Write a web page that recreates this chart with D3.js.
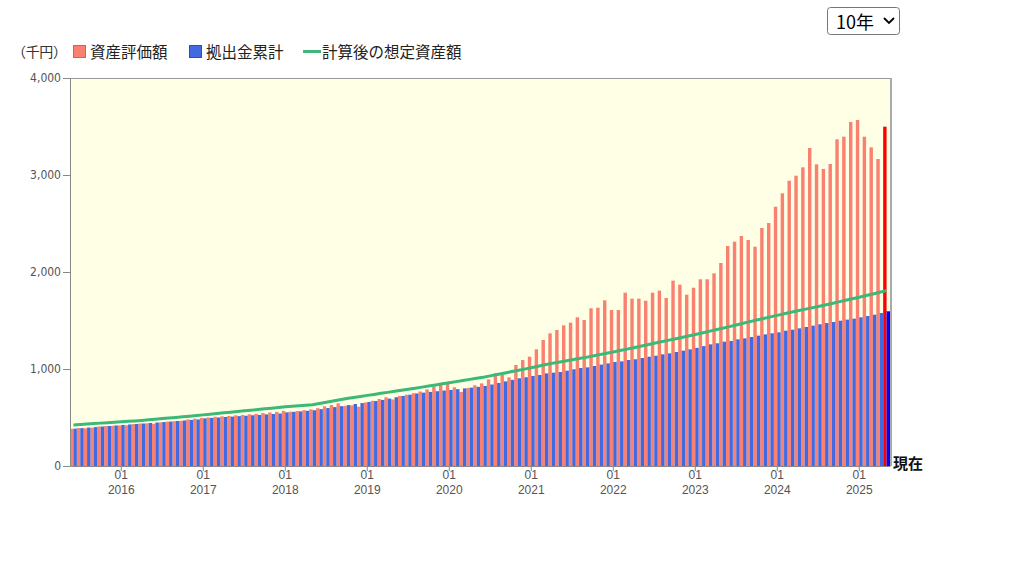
<!DOCTYPE html>
<html><head><meta charset="utf-8">
<script src="https://cdn.jsdelivr.net/npm/d3@7"></script>
<style>
body{margin:0;background:#fff;}
svg{display:block;font-family:"Noto Sans CJK JP","Noto Sans",sans-serif;}
</style>
</head><body>
<svg id="c" width="1024" height="576"></svg>
<script>
// ---- data (千円) ----
const startYear = 2015, startMonth = 6;   // first bar: 2015-06
const nowLabel = "現在";
const assetValues = [
  383,392,388,395,408,412,415,
  418,420,432,438,440,436,450,458,462,466,480,488,
  496,500,508,512,516,522,526,533,538,546,552,558,
  568,560,566,576,584,596,615,628,646,618,625,611,
  655,672,690,708,686,722,735,750,768,790,818,838,
  845,811,763,805,832,852,893,955,938,914,1041,1093,
  1127,1203,1299,1368,1402,1450,1478,1533,1505,1626,1632,1708,
  1608,1608,1787,1725,1725,1704,1787,1808,1732,1911,1870,1766,
  1838,1925,1925,1986,2093,2268,2313,2371,2330,2261,2454,2505,
  2673,2811,2941,2993,3079,3278,3110,3062,3113,3368,3395,3546,
  3567,3395,3285,3165,3498
];
const contributions = [
  385,390,396,401,407,412,418,
  423,428,433,438,443,448,453,458,464,469,475,480,
  491,496,500,505,509,514,518,523,527,532,536,541,
  553,558,563,569,575,586,597,607,617,628,639,649,
  660,670,681,695,709,722,735,748,756,764,771,778,
  784,792,800,808,816,825,840,856,872,888,904,915,
  928,938,955,962,969,983,997,1010,1017,1031,1045,1058,
  1072,1079,1093,1100,1113,1127,1137,1151,1161,1175,1189,1203,
  1218,1236,1254,1265,1282,1289,1306,1316,1330,1344,1357,1368,
  1378,1395,1405,1419,1433,1447,1461,1474,1485,1498,1509,1519,
  1533,1546,1560,1577,1595
];
const projected = [
  423,428,432,437,442,446,451,
  456,461,465,470,476,482,489,495,501,507,514,520,
  527,534,541,548,555,562,569,575,582,589,596,603,
  610,615,621,626,632,645,657,670,682,695,706,717,
  728,738,749,759,770,780,791,801,813,824,836,847,
  859,870,881,893,904,915,929,943,957,971,985,999,
  1013,1028,1043,1058,1070,1083,1095,1108,1120,1134,1148,1162,
  1176,1190,1205,1220,1235,1250,1265,1280,1295,1310,1325,1340,
  1356,1372,1388,1404,1420,1437,1454,1471,1488,1505,1521,1537,
  1553,1569,1585,1600,1615,1630,1645,1660,1676,1692,1708,1724,
  1740,1757,1774,1791,1808
];
const yTicks = [0,1000,2000,3000,4000];
const legendLabels = ["資産評価額","拠出金累計","計算後の想定資産額"];
const unitLabel = "（千円）";
const periodLabel = "10年";

// ---- categories ----
const categories = assetValues.map((_, i) => {
  if (i === assetValues.length - 1) return nowLabel;
  const m = startMonth - 1 + i;
  return `${startYear + Math.floor(m / 12)}-${String(m % 12 + 1).padStart(2, "0")}`;
});

const svg = d3.select("#c");
const L = 70, R = 890, T = 78, B = 466;
const x = d3.scaleBand().domain(categories).range([L, R]).padding(0);
const y = d3.scaleLinear().domain([0, 4000]).range([B, T]);
const bw = x.bandwidth();

// plot background
svg.append("rect").attr("x", L).attr("y", T).attr("width", R - L).attr("height", B - T).attr("fill", "#FFFFE6");

// bars
const isNow = c => c === nowLabel;
svg.append("g").selectAll("rect").data(categories).join("rect")
  .attr("x", c => x(c))
  .attr("y", (c, i) => y(assetValues[i]))
  .attr("width", bw / 2)
  .attr("height", (c, i) => B - y(assetValues[i]))
  .attr("fill", c => isNow(c) ? "#FF0000" : "#FA8072");
svg.append("g").selectAll("rect").data(categories).join("rect")
  .attr("x", c => x(c) + bw / 2)
  .attr("y", (c, i) => y(contributions[i]))
  .attr("width", bw / 2)
  .attr("height", (c, i) => B - y(contributions[i]))
  .attr("fill", c => isNow(c) ? "#0000FF" : "#4169E1");

// projected line
const line = d3.line().x((d, i) => x(categories[i]) + bw / 2).y(d => y(d));
svg.append("path").datum(projected).attr("d", line)
  .attr("fill", "none").attr("stroke", "#3CB878").attr("stroke-width", 3);

// borders
svg.append("line").attr("x1", L).attr("x2", R).attr("y1", T + 0.5).attr("y2", T + 0.5).attr("stroke", "#999");
svg.append("line").attr("x1", R + 1).attr("x2", R + 1).attr("y1", T).attr("y2", B).attr("stroke", "#aaa").attr("stroke-width", 2);

// y axis
const ya = svg.append("g").attr("transform", `translate(${L},0)`)
  .call(d3.axisLeft(y).tickValues(yTicks).tickFormat(d3.format(",")).tickSize(7).tickSizeOuter(0).tickPadding(2));
ya.select(".domain").attr("stroke", "#888");
ya.selectAll(".tick line").attr("stroke", "#888");
ya.selectAll("text").attr("fill", "#555").style("font-size", "12px").style("font-family", "'DejaVu Sans Condensed','Noto Sans CJK JP',sans-serif");

// x axis
const janCats = categories.filter(c => c.endsWith("-01"));
const xa = svg.append("g").attr("transform", `translate(0,${B})`)
  .call(d3.axisBottom(x).tickValues(janCats).tickFormat(() => "01").tickSize(5).tickSizeOuter(0).tickPadding(-1));
xa.select(".domain").attr("stroke", "#888");
xa.selectAll(".tick line").attr("stroke", "#888");
xa.selectAll(".tick text").attr("fill", "#555").style("font-size", "12px");
xa.selectAll(".tick").append("text")
  .attr("y", 28).attr("fill", "#555").attr("text-anchor", "middle").style("font-size", "12px")
  .text(c => c.slice(0, 4));

// 現在 label
svg.append("text").attr("x", 893).attr("y", 469).attr("font-size", 15).attr("font-weight", "bold").attr("fill", "#111").text(nowLabel);

// legend
svg.append("text").attr("x", 12).attr("y", 57).attr("font-size", 14).attr("fill", "#333")
  .attr("textLength", 55).attr("lengthAdjust", "spacing").text(unitLabel);
const lg = svg.append("g").attr("font-size", 15.5).attr("fill", "#222");
lg.append("rect").attr("x", 73.5).attr("y", 45.5).attr("width", 12).attr("height", 12).attr("fill", "#FA8072").attr("stroke", "#d8604f");
lg.append("text").attr("x", 90).attr("y", 58).text(legendLabels[0]);
lg.append("rect").attr("x", 189.5).attr("y", 45.5).attr("width", 12).attr("height", 12).attr("fill", "#4169E1").attr("stroke", "#2a4fb8");
lg.append("text").attr("x", 206).attr("y", 58).text(legendLabels[1]);
lg.append("line").attr("x1", 303).attr("x2", 321).attr("y1", 51.5).attr("y2", 51.5).attr("stroke", "#3CB878").attr("stroke-width", 3);
lg.append("text").attr("x", 322).attr("y", 58).text(legendLabels[2]);

// period selector
const sel = svg.append("g");
sel.append("rect").attr("x", 827.5).attr("y", 7.5).attr("width", 72).attr("height", 27).attr("rx", 3)
  .attr("fill", "#fff").attr("stroke", "#767676");
sel.append("text").attr("x", 836).attr("y", 29).attr("font-size", 18).attr("fill", "#000").text(periodLabel);
sel.append("path").attr("d", "M884,18 l5,5 l5,-5").attr("fill", "none").attr("stroke", "#000").attr("stroke-width", 1.8);
</script>
</body></html>
